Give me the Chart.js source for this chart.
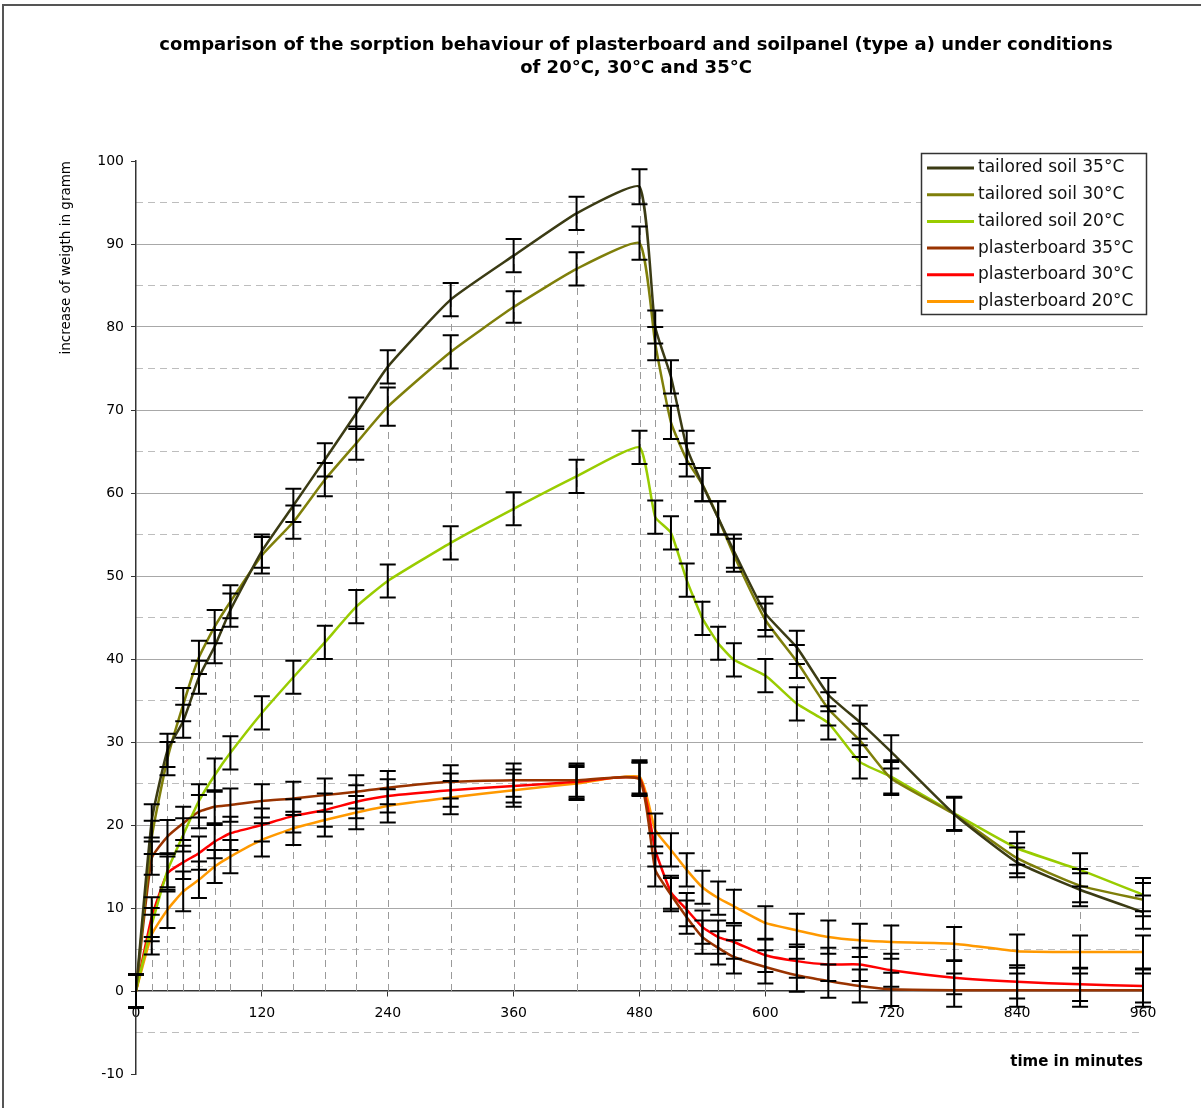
<!DOCTYPE html>
<html>
<head>
<meta charset="utf-8">
<script src="https://cdn.jsdelivr.net/npm/chart.js@4.4.1/dist/chart.umd.min.js"></script>
<style>
  body { margin: 0; background: #fff; }
  canvas { display: block; }
</style>
</head>
<body>
<canvas id="chart" width="1201" height="1108"></canvas>
<script>
// measurement times in minutes
const times = [0, 15, 30, 45, 60, 75, 90, 120, 150, 180, 210, 240, 300, 360, 420, 480,
  495, 510, 525, 540, 555, 570, 600, 630, 660, 690, 720, 780, 840, 900, 960];

// increase of weight in gramm
const soil35 = [0, 20.5, 29, 32.5, 37.8, 41.5, 45.9, 53, 58.5, 64, 69.6, 75.2, 83.3, 88.6, 93.7, 96.9,
  80, 74, 65.5, 61, 57, 53, 45.5, 41.4, 35.7, 32.4, 28.8, 21.3, 15.5, 12.2, 9.5];
const soil30 = [0, 18.5, 28, 34.5, 40.2, 43.9, 46.9, 52.5, 56.5, 61.6, 66, 70.4, 77, 82.4, 87, 90.1,
  78, 68.5, 64, 61, 57, 52.5, 44.7, 39.7, 34, 30.2, 25.6, 21.3, 16, 12.7, 11];
const soil20 = [0, 8, 14.5, 18.8, 22.9, 26, 28.7, 33.5, 37.8, 42, 46.3, 49.4, 54, 58.1, 62, 65.5,
  57.1, 55.2, 49.5, 44.9, 41.9, 39.9, 38, 34.6, 32.3, 27.6, 25.8, 21.4, 17.2, 14.6, 11.6];
const plaster35 = [0, 16, 18.6, 20.2, 21.6, 22.2, 22.4, 22.9, 23.2, 23.6, 24, 24.5, 25.2, 25.4, 25.4, 25.5,
  14.6, 11.6, 8.9, 6.5, 5.2, 4.1, 2.9, 1.9, 1.2, 0.6, 0.2, 0.1, 0.1, 0.1, 0.1];
const plaster30 = [0, 8.9, 14.2, 15.5, 16.6, 18, 19, 20, 21.1, 21.8, 22.8, 23.5, 24.2, 24.7, 25.2, 25.6,
  17, 11.9, 9.8, 7.7, 6.5, 5.9, 4.3, 3.6, 3.2, 3.2, 2.5, 1.6, 1.1, 0.8, 0.6];
const plaster20 = [0, 6.8, 9.8, 12, 13.4, 15, 16.2, 18.2, 19.6, 20.6, 21.5, 22.3, 23.3, 24.2, 25, 25.8,
  19.4, 17, 14.6, 12.5, 11.2, 10.2, 8.2, 7.3, 6.5, 6.1, 5.9, 5.7, 4.8, 4.7, 4.7];

// error bar half lengths
const soil35Err = [2, 2, 2, 2, 2, 2, 2, 2, 2, 2, 1.9, 2, 2, 2, 2, 2.1,
  2, 2, 2, 2, 2, 2, 2, 2, 2, 2, 2, 2, 1.8, 2, 2];
const soil30Err = [2, 2, 2, 2, 2, 2, 2, 2.2, 2, 2, 2, 2.3, 2, 1.9, 2, 2,
  2, 2, 2, 2, 2, 2, 2, 2, 2, 2, 2, 2, 1.8, 2, 2];
const soil20Err = [2, 2, 2, 2, 2, 2, 2, 2, 2, 2, 2, 2, 2, 2, 2, 2,
  2, 2, 2, 2, 2, 2, 2, 2, 2, 2, 2, 2, 2, 2, 2];
const plaster35Err = [2, 2, 2, 2, 2, 2, 2, 2, 2, 2, 2, 2, 2, 2, 2, 2,
  2, 2, 2, 2, 2, 2, 2, 2, 2, 2, 2, 2, 2, 2, 2];
const plaster30Err = [2, 2.4, 2, 2, 2, 2, 2, 2, 2, 2, 2, 2, 2, 2, 2, 2,
  2, 2, 2, 2, 2, 2, 2, 2, 2, 2, 2, 2, 2, 2, 2];
const plaster20Err = [2, 2.4, 2.2, 2.4, 2.2, 2, 2, 2, 2, 2, 2, 2, 2, 2, 2, 2,
  2, 2, 2, 2, 2, 2, 2, 2, 2, 2, 2, 2, 2, 2, 2];

const seriesNames = ["tailored soil 35°C", "tailored soil 30°C", "tailored soil 20°C",
  "plasterboard 35°C", "plasterboard 30°C", "plasterboard 20°C"];
const seriesValues = [soil35, soil30, soil20, plaster35, plaster30, plaster20];
const seriesErrors = [soil35Err, soil30Err, soil20Err, plaster35Err, plaster30Err, plaster20Err];
const seriesColors = ["#3b3b14", "#7f7f0a", "#99cc00", "#993300", "#ff0000", "#ff9900"];

const titleLines = ["comparison of the sorption behaviour of plasterboard and soilpanel (type a) under conditions",
  "of 20°C, 30°C and 35°C"];
const minorTicks = [-5, 5, 15, 25, 35, 45, 55, 65, 75, 85, 95];

const FONT = "DejaVu Sans";

const datasets = seriesValues.map((vals, i) => ({
  label: seriesNames[i],
  data: times.map((t, j) => ({ x: t, y: vals[j] })),
  borderColor: seriesColors[i],
  backgroundColor: seriesColors[i],
  borderWidth: 2.5,
  pointRadius: 0,
  tension: 0.15,
  yAxisID: "y"
}));

const extras = {
  id: "extras",
  beforeDraw(chart) {
    const ctx = chart.ctx;
    ctx.save();
    ctx.fillStyle = "#fff";
    ctx.fillRect(0, 0, chart.width, chart.height);
    ctx.strokeStyle = "#555";
    ctx.lineWidth = 2;
    ctx.beginPath();
    ctx.moveTo(3, chart.height);
    ctx.lineTo(3, 5);
    ctx.lineTo(chart.width, 5);
    ctx.stroke();
    ctx.restore();
  },
  beforeDatasetsDraw(chart) {
    // drop lines from the highest series down to the axis
    const ctx = chart.ctx;
    const xs = chart.scales.x, ys = chart.scales.y;
    ctx.save();
    ctx.strokeStyle = "#9a9a9a";
    ctx.lineWidth = 1;
    ctx.setLineDash([7, 5]);
    times.forEach((t, j) => {
      if (t === 0) return;
      const top = Math.max(...seriesValues.map(v => v[j]));
      const x = Math.round(xs.getPixelForValue(t)) + 0.5;
      ctx.beginPath();
      ctx.moveTo(x, ys.getPixelForValue(0));
      ctx.lineTo(x, ys.getPixelForValue(top));
      ctx.stroke();
    });
    ctx.restore();
  },
  afterDatasetsDraw(chart) {
    // error bars
    const ctx = chart.ctx;
    const xs = chart.scales.x, ys = chart.scales.y;
    ctx.save();
    ctx.strokeStyle = "#000";
    ctx.lineWidth = 2;
    seriesValues.forEach((vals, i) => {
      vals.forEach((v, j) => {
        const e = seriesErrors[i][j];
        const x = xs.getPixelForValue(times[j]);
        const y1 = ys.getPixelForValue(v + e);
        const y2 = ys.getPixelForValue(v - e);
        ctx.beginPath();
        ctx.moveTo(x, y1); ctx.lineTo(x, y2);
        ctx.moveTo(x - 8, y1); ctx.lineTo(x + 8, y1);
        ctx.moveTo(x - 8, y2); ctx.lineTo(x + 8, y2);
        ctx.stroke();
      });
    });
    ctx.restore();
  },
  afterDraw(chart) {
    const ctx = chart.ctx;
    ctx.save();
    // title
    ctx.fillStyle = "#000";
    ctx.font = "bold 18px '" + FONT + "'";
    ctx.textAlign = "center";
    ctx.textBaseline = "middle";
    titleLines.forEach((line, i) => ctx.fillText(line, 636, 45 + i * 23));
    // legend
    const lx = 921, ly = 153, lw = 225, lh = 161;
    ctx.fillStyle = "#fff";
    ctx.fillRect(lx, ly, lw, lh);
    ctx.strokeStyle = "#333";
    ctx.lineWidth = 1.5;
    ctx.strokeRect(lx + 0.5, ly + 0.5, lw, lh);
    ctx.font = "17px '" + FONT + "'";
    ctx.textAlign = "left";
    seriesNames.forEach((name, i) => {
      const y = ly + 15 + i * 26.7;
      ctx.strokeStyle = seriesColors[i];
      ctx.lineWidth = 3;
      ctx.beginPath();
      ctx.moveTo(lx + 6, y); ctx.lineTo(lx + 53, y);
      ctx.stroke();
      ctx.fillStyle = "#111";
      ctx.fillText(name, lx + 57, y);
    });
    ctx.restore();
  }
};

new Chart(document.getElementById("chart"), {
  type: "line",
  data: { datasets: datasets },
  plugins: [extras],
  options: {
    responsive: false,
    animation: false,
    devicePixelRatio: 1,
    layout: { padding: { left: 0, right: 58, top: 161, bottom: 34 } },
    plugins: {
      legend: { display: false },
      title: { display: false },
      tooltip: { enabled: false }
    },
    scales: {
      x: {
        type: "linear",
        position: { y: 0 },
        min: 0,
        max: 960,
        ticks: { stepSize: 120, color: "#000", font: { family: FONT, size: 14 }, padding: 9, maxRotation: 0 },
        grid: { drawOnChartArea: false, tickLength: 5, tickColor: "#333" },
        border: { color: "#333", width: 1.5 },
        title: {
          display: true, text: "time in minutes", align: "end", color: "#000",
          font: { family: FONT, size: 15, weight: "bold" }, padding: { top: 22, bottom: 0 }
        }
      },
      y: {
        position: "left",
        min: -10,
        max: 100,
        ticks: { stepSize: 10, color: "#000", font: { family: FONT, size: 14 }, padding: 7 },
        grid: {
          color: c => (c.tick && [100, 0, -10].includes(c.tick.value)) ? "rgba(0,0,0,0)" : "#a8a8a8",
          tickColor: "#333",
          tickLength: 5,
          lineWidth: 1
        },
        border: { color: "#333", width: 1.5 },
        title: {
          display: true, text: "increase of weigth in gramm", align: "end", color: "#000",
          font: { family: FONT, size: 13.5 }, padding: { top: 58, bottom: 0 }
        },
        afterFit: s => { s.width = 136; }
      },
      yMinor: {
        position: "right",
        min: -10,
        max: 100,
        afterBuildTicks: s => { s.ticks = minorTicks.map(v => ({ value: v })); },
        ticks: { display: false },
        grid: { color: "#bdbdbd", drawTicks: false, lineWidth: 1 },
        border: { display: false, dash: [7, 5] },
        afterFit: s => { s.width = 0; }
      }
    }
  }
});
</script>
</body>
</html>
